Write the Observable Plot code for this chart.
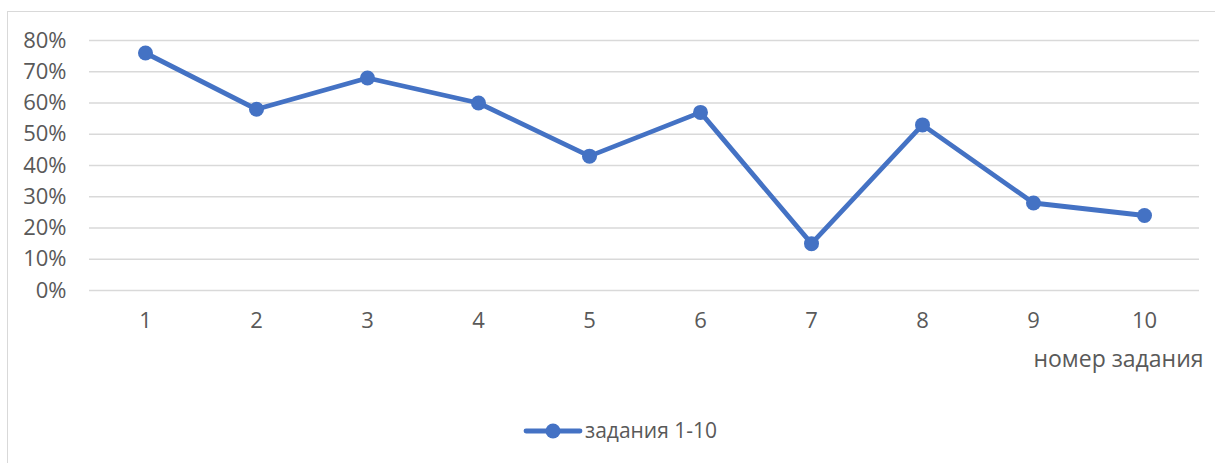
<!DOCTYPE html>
<html>
<head>
<meta charset="utf-8">
<script src="https://cdn.jsdelivr.net/npm/d3@7"></script>
<script src="https://cdn.jsdelivr.net/npm/@observablehq/plot@0.6"></script>
<style>
  html, body { margin: 0; padding: 0; background: #fff; }
  #wrap { position: relative; width: 1215px; height: 463px; overflow: hidden; font-family: "Open Sans", sans-serif; }
  #frame { position: absolute; left: 7px; top: 10.5px; width: 1220px; height: 470px; border-left: 1.5px solid #d9d9d9; border-top: 1.5px solid #d9d9d9; box-sizing: border-box; }
  #chart { position: absolute; left: 0; top: 0; }
  #legend { position: absolute; left: 0; top: 0; }
</style>
</head>
<body>
<div id="wrap">
  <div id="frame"></div>
  <div id="chart"></div>
  <svg id="legend" width="1215" height="463"></svg>
</div>
<script>
const tasks = ["1", "2", "3", "4", "5", "6", "7", "8", "9", "10"];
const values = [0.76, 0.58, 0.68, 0.60, 0.43, 0.57, 0.15, 0.53, 0.28, 0.24];
const yTicks = [0, 0.1, 0.2, 0.3, 0.4, 0.5, 0.6, 0.7, 0.8];
const seriesName = "задания 1-10";
const xTitle = "номер задания";

const data = tasks.map((t, i) => ({task: t, value: values[i]}));
const color = "#4472C4";
const textColor = "#595959";

const plot = Plot.plot({
  width: 1215,
  height: 463,
  marginLeft: 89,
  marginRight: 16,
  marginTop: 40,
  marginBottom: 173,
  style: {fontFamily: "'Open Sans', sans-serif", fontSize: "22px", color: textColor, background: "transparent"},
  x: {type: "point", domain: tasks, padding: 0.5, label: null},
  y: {domain: [0, 0.8], label: null},
  marks: [
    Plot.gridY(yTicks, {stroke: "#d9d9d9", strokeOpacity: 1, strokeWidth: 1.4}),
    Plot.axisY(yTicks, {tickSize: 0, tickPadding: 23, tickFormat: d => Math.round(d * 100) + "%", fill: textColor, fontSize: 22}),
    Plot.axisX({tickSize: 0, tickPadding: 22, fill: textColor, fontSize: 22, label: null}),
    Plot.line(data, {x: "task", y: "value", stroke: color, strokeWidth: 4.8, strokeLinejoin: "round", strokeLinecap: "round"}),
    Plot.dot(data, {x: "task", y: "value", fill: color, r: 7.5}),
    Plot.text([xTitle], {frameAnchor: "bottom-right", lineAnchor: "middle", dx: 4, dy: 69, textAnchor: "end", fill: textColor, fontSize: 23})
  ]
});
document.getElementById("chart").appendChild(plot);

const legend = document.getElementById("legend");
legend.innerHTML = `<line x1="526" y1="431" x2="580" y2="431" stroke="${color}" stroke-width="4.8" stroke-linecap="round"/>` +
  `<circle cx="553" cy="431" r="7.5" fill="${color}"/>` +
  `<text x="585" y="438" fill="${textColor}" font-family="'Open Sans', sans-serif" font-size="21">${seriesName}</text>`;
</script>
</body>
</html>
